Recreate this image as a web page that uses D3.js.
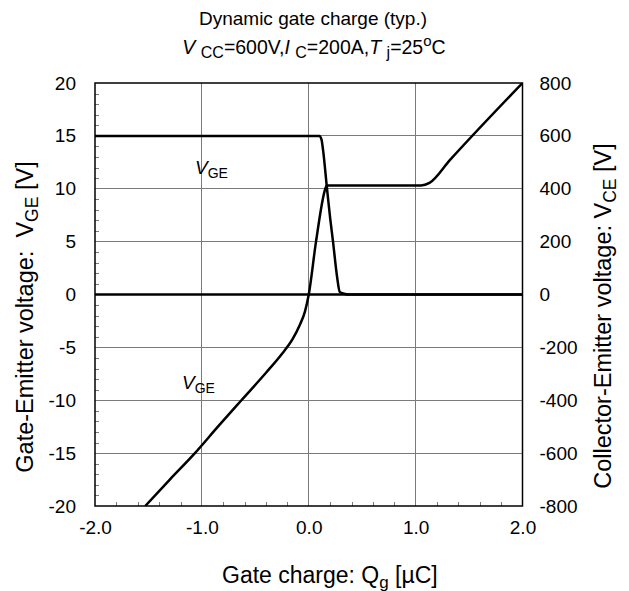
<!DOCTYPE html>
<html>
<head>
<meta charset="utf-8">
<script src="https://cdn.jsdelivr.net/npm/d3@7/dist/d3.min.js"></script>
<style>
  body { margin: 0; background: #fff; }
  svg { display: block; font-family: "Liberation Sans", Arial, sans-serif; }
</style>
</head>
<body>
<svg id="chart" width="629" height="591"></svg>
<script>
// ---- data ----
const xTicks = [-2.0, -1.0, 0.0, 1.0, 2.0];
const xTickLabels = ["-2.0", "-1.0", "0.0", "1.0", "2.0"];
const yLeftTicks = [20, 15, 10, 5, 0, -5, -10, -15, -20];
const yRightTicks = [800, 600, 400, 200, 0, -200, -400, -600, -800];

// Gate-emitter voltage VGE [V] vs gate charge Qg [uC]
const vgeQ = [-1.53, -1.3, -1.065, -0.85, -0.63, -0.4, -0.25, -0.15, -0.085, -0.035, 0.0, 0.068, 0.155, 0.168, 0.6, 1.05, 1.13, 1.32, 2.0];
const vgeV = [-20, -17.5, -15, -12.5, -10, -7.4, -5.6, -4.2, -2.9, -1.6, 0, 5, 10, 10.3, 10.3, 10.3, 10.55, 12.7, 20];

// Collector-emitter voltage VCE [V] vs gate charge Qg [uC]
const vceQ = [-2.0, 0.10, 0.12, 0.134, 0.171, 0.2, 0.227, 0.265, 0.29, 0.33, 0.38, 2.0];
const vceV = [600, 600, 585, 546, 400, 290, 200, 67, 10, 3, 0, 0];

// zero baseline (VCE = 0 across the plot)
const baseQ = [-2.0, 2.0];
const baseV = [0, 0];

// ---- layout ----
const svg = d3.select("#chart");
const L = 95, R = 522.5, T = 83, B = 506;
const FONT = "Liberation Sans, Arial, sans-serif";

const x = d3.scaleLinear().domain([-2, 2]).range([L, R]);
const yL = d3.scaleLinear().domain([-20, 20]).range([B, T]);
const yR = d3.scaleLinear().domain([-800, 800]).range([B, T]);

svg.append("defs").append("clipPath").attr("id", "clip")
  .append("rect").attr("x", L).attr("y", T).attr("width", R - L).attr("height", B - T);

// grid
const grid = svg.append("g").attr("stroke", "#7a7a7a").attr("stroke-width", 1).attr("shape-rendering", "crispEdges");
xTicks.slice(1, -1).forEach(v => {
  grid.append("line").attr("x1", x(v)).attr("x2", x(v)).attr("y1", T).attr("y2", B);
});
yLeftTicks.slice(1, -1).forEach(v => {
  grid.append("line").attr("x1", L).attr("x2", R).attr("y1", yL(v)).attr("y2", yL(v));
});

// minor ticks (inward) via d3 axes
const minorY = d3.range(-19, 20, 1).filter(v => v % 5 !== 0);
const minorX = d3.range(-1.8, 2.0, 0.2).map(v => +v.toFixed(1)).filter(v => Math.abs(v - Math.round(v)) > 1e-6);

svg.append("g").attr("transform", `translate(${L},0)`)
  .call(d3.axisRight(yL).tickValues(minorY).tickSize(4).tickFormat(""))
  .call(g => g.select(".domain").remove())
  .selectAll("line").attr("stroke", "#7a7a7a").attr("shape-rendering", "crispEdges");

svg.append("g").attr("transform", `translate(0,${B})`)
  .call(d3.axisTop(x).tickValues(minorX).tickSize(4).tickFormat(""))
  .call(g => g.select(".domain").remove())
  .selectAll("line").attr("stroke", "#7a7a7a").attr("shape-rendering", "crispEdges");

// tick labels via axes
const fs = 19;
svg.append("g").attr("transform", `translate(${L},0)`)
  .call(d3.axisLeft(yL).tickValues(yLeftTicks).tickSize(0).tickPadding(19).tickFormat(d => String(d)))
  .call(g => g.select(".domain").remove())
  .selectAll("text").attr("font-size", fs).attr("fill", "#000").attr("font-family", FONT);

svg.append("g").attr("transform", `translate(${R},0)`)
  .call(d3.axisRight(yR).tickValues(yRightTicks).tickSize(0).tickPadding(17).tickFormat(d => String(d)))
  .call(g => g.select(".domain").remove())
  .selectAll("text").attr("font-size", fs).attr("fill", "#000").attr("font-family", FONT);

svg.append("g").attr("transform", `translate(0,${B})`)
  .call(d3.axisBottom(x).tickValues(xTicks).tickSize(0).tickPadding(15).tickFormat((d, i) => xTickLabels[i]))
  .call(g => g.select(".domain").remove())
  .selectAll("text").attr("font-size", fs).attr("fill", "#000").attr("font-family", FONT);

// curves
const plot = svg.append("g").attr("clip-path", "url(#clip)");
const lineL = d3.line().x(d => x(d[0])).y(d => yL(d[1])).curve(d3.curveMonotoneX);
const lineR = d3.line().x(d => x(d[0])).y(d => yR(d[1])).curve(d3.curveMonotoneX);

plot.append("path").datum(d3.zip(baseQ, baseV)).attr("d", lineR)
  .attr("fill", "none").attr("stroke", "#000").attr("stroke-width", 2.5);
plot.append("path").datum(d3.zip(vceQ, vceV)).attr("d", lineR)
  .attr("fill", "none").attr("stroke", "#000").attr("stroke-width", 2.5).attr("stroke-linejoin", "round");
plot.append("path").datum(d3.zip(vgeQ, vgeV)).attr("d", lineL)
  .attr("fill", "none").attr("stroke", "#000").attr("stroke-width", 2.5).attr("stroke-linejoin", "round");

// frame
svg.append("rect").attr("x", L).attr("y", T).attr("width", R - L).attr("height", B - T)
  .attr("fill", "none").attr("stroke", "#000").attr("stroke-width", 1.5);

// in-plot labels
function vLabel(px, py, sub) {
  const t = svg.append("text").attr("x", px).attr("y", py).attr("font-size", 19).attr("fill", "#000");
  t.append("tspan").attr("font-style", "italic").text("V");
  t.append("tspan").attr("font-size", 14).attr("dy", 4).text(sub);
}
vLabel(195, 174, "GE");
vLabel(182, 389, "GE");

// title
svg.append("text").attr("x", 313).attr("y", 25).attr("text-anchor", "middle")
  .attr("font-size", 19).attr("fill", "#000").text("Dynamic gate charge (typ.)");
const t2 = svg.append("text").attr("x", 314).attr("y", 54).attr("text-anchor", "middle")
  .attr("font-size", 19.5).attr("fill", "#000").attr("xml:space", "preserve");
t2.append("tspan").attr("font-style", "italic").text("V ");
t2.append("tspan").attr("font-size", 16).attr("dy", 4).text("CC");
t2.append("tspan").attr("dy", -4).text("=600V,");
t2.append("tspan").attr("font-style", "italic").text("I ");
t2.append("tspan").attr("font-size", 16).attr("dy", 4).text("C");
t2.append("tspan").attr("dy", -4).text("=200A,");
t2.append("tspan").attr("font-style", "italic").text("T ");
t2.append("tspan").attr("font-size", 16).attr("dy", 4).text("j");
t2.append("tspan").attr("dy", -4).text("=25");
t2.append("tspan").attr("font-size", 15).attr("dy", -8).text("o");
t2.append("tspan").attr("dy", 8).text("C");

// axis titles
const xt = svg.append("text").attr("x", 222).attr("y", 583).attr("text-anchor", "start")
  .attr("font-size", 23).attr("fill", "#000");
xt.append("tspan").text("Gate charge: Q");
xt.append("tspan").attr("font-size", 17).attr("dy", 5).text("g");
xt.append("tspan").attr("dy", -5).text(" [\u00B5C]");

const ylt = svg.append("text").attr("transform", "translate(33,317) rotate(-90)").attr("text-anchor", "middle")
  .attr("font-size", 23.5).attr("fill", "#000").attr("xml:space", "preserve");
ylt.append("tspan").text("Gate-Emitter voltage:  V");
ylt.append("tspan").attr("font-size", 17.5).attr("dy", 5).text("GE");
ylt.append("tspan").attr("dy", -5).text(" [V]");

const yrt = svg.append("text").attr("transform", "translate(611,316) rotate(-90)").attr("text-anchor", "middle")
  .attr("font-size", 23.5).attr("fill", "#000");
yrt.append("tspan").text("Collector-Emitter voltage: V");
yrt.append("tspan").attr("font-size", 17.5).attr("dy", 5).text("CE");
yrt.append("tspan").attr("dy", -5).text(" [V]");
</script>
</body>
</html>
